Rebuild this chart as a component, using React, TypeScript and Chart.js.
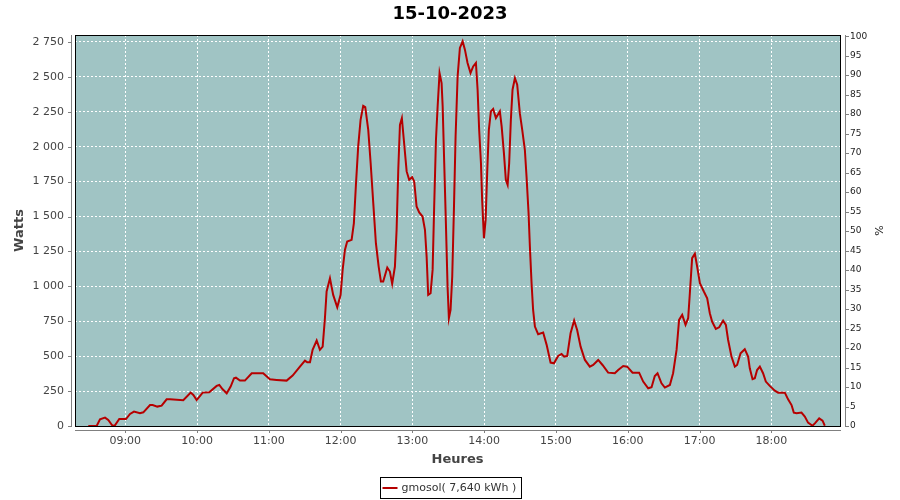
import { useEffect, useRef } from "react";
import { Chart, registerables } from "chart.js";

Chart.register(...registerables);

const chartTitle = "15-10-2023";
const seriesName = "gmosol( 7,640 kWh )";
const xAxisTitle = "Heures";
const yAxisTitle = "Watts";
const y2AxisTitle = "%";

// hour ticks, in minutes after midnight
const hourTicks = [540, 600, 660, 720, 780, 840, 900, 960, 1020, 1080];
const wattTicks = [0, 250, 500, 750, 1000, 1250, 1500, 1750, 2000, 2250, 2500, 2750];
const percentTicks = [0, 5, 10, 15, 20, 25, 30, 35, 40, 45, 50, 55, 60, 65, 70, 75, 80, 85, 90, 95, 100];

// sample times, minutes after midnight
const times = [
  509.1, 516.1, 518.9, 523.1, 525.8, 529.5, 531.4, 535, 540.6, 544, 547.3, 552.3, 555.1, 560.7, 562.9, 566.8,
  570.4, 574.6, 577.4, 588.5, 594.7, 596.9, 599.7, 604.7, 610.2, 616.4, 618.6, 621.4, 624.8, 628.1, 630.9, 632.5,
  635.9, 640, 645.7, 655.3, 660.9, 666.5, 674.9, 679.9, 686, 690.2, 692.1, 694.4, 696.6, 700, 702.7, 705,
  706.9, 708.3, 711.1, 713.8, 717.2, 720, 721.7, 723.6, 725.5, 729.2, 731.1, 732.8, 734.7, 736.7, 738.9, 740.6,
  743.1, 745.1, 747.3, 749.5, 751.8, 753.7, 755.6, 759, 761.2, 763.1, 765.4, 766.8, 768.2, 769.6, 771.2, 773.2,
  775.2, 777.3, 779.8, 781.5, 783.5, 785.7, 788.5, 790.5, 791.9, 793.2, 795.2, 796.9, 798.2, 799.7, 801.1, 802.7,
  804.4, 805.3, 806.6, 808, 809.4, 810.5, 811.9, 813.3, 814.7, 816.1, 817.8, 819.7, 822, 823.9, 826.1, 828.6,
  830.8, 833.1, 834.5, 835.8, 837.3, 838.3, 839.8, 841.2, 842.5, 843.9, 845.6, 847.5, 849.8, 853.1, 854.6, 856.5,
  858.1, 859.6, 860.9, 862.3, 863.7, 865.7, 867.6, 869.8, 871.8, 874, 875.4, 877.1, 878.2, 879.6, 880.9, 882.4,
  885.1, 889.3, 892.2, 895.5, 898.3, 901.8, 904.7, 906.9, 909.4, 912.2, 915.2, 917.7, 920.6, 924.2, 928.3, 931.1,
  935.3, 938.9, 943.6, 949.2, 952, 956.2, 959.5, 964, 969.5, 972.9, 977.1, 979.9, 982.6, 984.9, 988.2, 991,
  995.2, 997.9, 1000.8, 1002.9, 1005.5, 1008.3, 1010.5, 1011.9, 1013.8, 1016.1, 1018, 1020.3, 1023.6, 1026.4, 1028.6, 1030.5,
  1033.6, 1036.4, 1039.7, 1042, 1043.9, 1046.7, 1049.5, 1051.4, 1054.3, 1057.8, 1060.6, 1062, 1064.3, 1066.2, 1068.1, 1070.4,
  1073.1, 1075.4, 1078.7, 1082.9, 1085.7, 1091.3, 1094, 1096.9, 1098.8, 1101.1, 1105.2, 1108, 1110.7, 1114.4, 1116.4, 1120,
  1122.8, 1124.7,
];

const watts = [
  0, 0, 48, 60, 43, 0, 5, 50, 50, 86, 103, 91, 98, 150, 150, 139,
  146, 191, 191, 184, 239, 222, 186, 239, 241, 287, 294, 263, 234, 282, 342, 346,
  325, 325, 378, 378, 334, 330, 325, 361, 425, 468, 456, 456, 545, 612, 545, 568,
  772, 963, 1058, 939, 850, 939, 1118, 1261, 1321, 1333, 1453, 1727, 2002, 2193, 2293, 2284,
  2121, 1883, 1596, 1309, 1142, 1034, 1034, 1135, 1106, 1018, 1142, 1405, 1835, 2157, 2205, 2014,
  1823, 1763, 1782, 1751, 1572, 1529, 1500, 1405, 1213, 939, 951, 1118, 1572, 2050, 2289, 2528,
  2456, 2289, 1883, 1453, 998, 772, 831, 1070, 1548, 2073, 2504, 2707, 2754, 2695, 2600, 2528,
  2575, 2600, 2408, 2121, 1883, 1620, 1345, 1476, 1811, 2121, 2253, 2270, 2205, 2253, 2145, 1954,
  1763, 1727, 1883, 2193, 2408, 2492, 2444, 2240, 2121, 1978, 1787, 1524, 1285, 1023, 831, 712,
  657, 669, 581, 454, 449, 502, 516, 497, 502, 664, 755, 688, 568, 473, 425, 437,
  473, 437, 382, 378, 401, 430, 425, 382, 382, 318, 270, 277, 358, 378, 306, 275,
  294, 378, 545, 760, 796, 724, 772, 951, 1202, 1233, 1142, 1023, 963, 915, 808, 748,
  695, 707, 755, 724, 616, 497, 425, 437, 521, 550, 497, 413, 335, 342, 401, 425,
  378, 318, 287, 253, 239, 239, 191, 150, 96, 91, 96, 67, 24, 2, 19, 55,
  38, 2,
];

const FONT = "'DejaVu Sans', sans-serif";
const PLOT_BG = "#a0c4c4";
const LINE_COLOR = "#b60000";
const AXIS_GRAY = "#808080";

const fmtTime = (v: number) => {
  const h = Math.floor(v / 60);
  const m = Math.round(v - h * 60);
  return `${String(h).padStart(2, "0")}:${String(m).padStart(2, "0")}`;
};
const fmtWatts = (v: number) =>
  v >= 1000 ? `${Math.floor(v / 1000)} ${String(v % 1000).padStart(3, "0")}` : String(v);

const decorPlugin = {
  id: "decor",
  beforeDraw(chart: any) {
    const { ctx, chartArea: a } = chart;
    ctx.save();
    ctx.fillStyle = "#ffffff";
    ctx.fillRect(0, 0, chart.width, chart.height);
    ctx.fillStyle = PLOT_BG;
    ctx.fillRect(a.left, a.top, a.right - a.left, a.bottom - a.top);
    ctx.restore();
  },
  afterDraw(chart: any) {
    const { ctx, chartArea: a, scales } = chart;
    ctx.save();
    // plot border
    ctx.strokeStyle = "#000";
    ctx.lineWidth = 1;
    ctx.setLineDash([]);
    ctx.strokeRect(a.left + 0.5, a.top + 0.5, a.right - a.left, a.bottom - a.top);

    // axis lines
    ctx.strokeStyle = AXIS_GRAY;
    ctx.beginPath();
    // left
    ctx.moveTo(a.left - 3.5, a.top);
    ctx.lineTo(a.left - 3.5, a.bottom + 1);
    wattTicks.forEach((v) => {
      const y = Math.round(scales.y.getPixelForValue(v)) + 0.5;
      ctx.moveTo(a.left - 7, y);
      ctx.lineTo(a.left - 3.5, y);
    });
    // bottom
    const by = a.bottom + 4.5;
    ctx.moveTo(a.left, by);
    ctx.lineTo(a.right + 1, by);
    hourTicks.forEach((v) => {
      const x = Math.round(scales.x.getPixelForValue(v)) + 0.5;
      ctx.moveTo(x, by);
      ctx.lineTo(x, by + 2.5);
    });
    // right
    const rx = a.right + 5.5;
    ctx.moveTo(rx, a.top);
    ctx.lineTo(rx, a.bottom + 1);
    percentTicks.forEach((v) => {
      const y = Math.round(scales.y2.getPixelForValue(v)) + 0.5;
      ctx.moveTo(rx, y);
      ctx.lineTo(rx + 3.5, y);
    });
    ctx.stroke();

    // title
    ctx.fillStyle = "#000";
    ctx.textAlign = "center";
    ctx.textBaseline = "middle";
    ctx.font = `bold 18px ${FONT}`;
    ctx.fillText(chartTitle, 450, 14);

    // axis titles
    ctx.fillStyle = "#444";
    ctx.font = `bold 13px ${FONT}`;
    ctx.fillText(xAxisTitle, (a.left + a.right) / 2, 460);
    ctx.save();
    ctx.translate(20, (a.top + a.bottom) / 2);
    ctx.rotate(-Math.PI / 2);
    ctx.fillText(yAxisTitle, 0, 0);
    ctx.restore();
    ctx.save();
    ctx.fillStyle = "#222";
    ctx.font = `11px ${FONT}`;
    ctx.translate(880, (a.top + a.bottom) / 2);
    ctx.rotate(-Math.PI / 2);
    ctx.fillText(y2AxisTitle, 0, 0);
    ctx.restore();

    // legend
    ctx.font = `11px ${FONT}`;
    const tw = ctx.measureText(seriesName).width;
    const bw = Math.round(tw + 26);
    const bx = Math.round(450 - bw / 2) + 0.5;
    const byy = 477.5;
    ctx.fillStyle = "#fff";
    ctx.fillRect(bx, byy, bw, 21);
    ctx.strokeStyle = "#000";
    ctx.lineWidth = 1;
    ctx.strokeRect(bx, byy, bw, 21);
    ctx.strokeStyle = LINE_COLOR;
    ctx.lineWidth = 2;
    ctx.beginPath();
    ctx.moveTo(bx + 2, 488);
    ctx.lineTo(bx + 17, 488);
    ctx.stroke();
    ctx.fillStyle = "#333";
    ctx.textAlign = "left";
    ctx.fillText(seriesName, bx + 21, 488.5);
    ctx.restore();
  },
};

export default function App() {
  const ref = useRef<HTMLCanvasElement | null>(null);
  useEffect(() => {
    document.body.style.margin = "0";
    const canvas = ref.current;
    if (!canvas) return;
    const chart = new Chart(canvas, {
      type: "line",
      data: {
        datasets: [
          {
            label: seriesName,
            data: times.map((t, i) => ({ x: t, y: watts[i] })),
            borderColor: LINE_COLOR,
            borderWidth: 2,
            pointRadius: 0,
            tension: 0,
            fill: false,
            yAxisID: "y",
          },
        ],
      },
      options: {
        responsive: false,
        animation: false,
        events: [],
        layout: { padding: { top: 35, left: 0, right: 0, bottom: 0 } },
        plugins: {
          legend: { display: false },
          title: { display: false },
          tooltip: { enabled: false },
        },
        scales: {
          x: {
            type: "linear",
            min: 498,
            max: 1137.4,
            afterBuildTicks: (s: any) => {
              s.ticks = hourTicks.map((v) => ({ value: v }));
            },
            afterFit: (s: any) => {
              s.height = 74;
            },
            ticks: {
              autoSkip: false,
              maxRotation: 0,
              padding: 9,
              color: "#444",
              font: { family: FONT, size: 11 },
              callback: (v: any) => fmtTime(Number(v)),
            },
            grid: { color: "#ffffff", lineWidth: 1, drawTicks: false },
            border: { display: false, dash: [2, 2] },
          },
          y: {
            position: "left",
            min: 0,
            max: 2800,
            afterBuildTicks: (s: any) => {
              s.ticks = wattTicks.map((v) => ({ value: v }));
            },
            afterFit: (s: any) => {
              s.width = 75;
            },
            ticks: {
              autoSkip: false,
              padding: 11,
              color: "#444",
              font: { family: FONT, size: 11 },
              callback: (v: any) => fmtWatts(Number(v)),
            },
            grid: { color: "#ffffff", lineWidth: 1, drawTicks: false },
            border: { display: false, dash: [2, 2] },
          },
          y2: {
            position: "right",
            min: 0,
            max: 100.3,
            afterBuildTicks: (s: any) => {
              s.ticks = percentTicks.map((v) => ({ value: v }));
            },
            afterFit: (s: any) => {
              s.width = 60;
            },
            ticks: {
              autoSkip: false,
              padding: 10,
              color: "#222",
              font: { family: FONT, size: 9 },
              callback: (v: any) => String(v),
            },
            grid: { display: false, drawTicks: false },
            border: { display: false },
          },
        },
      },
      plugins: [decorPlugin],
    } as any);
    return () => chart.destroy();
  }, []);
  return (
    <div style={{ width: 900, height: 500 }}>
      <canvas ref={ref} width={900} height={500} style={{ display: "block" }} />
    </div>
  );
}
